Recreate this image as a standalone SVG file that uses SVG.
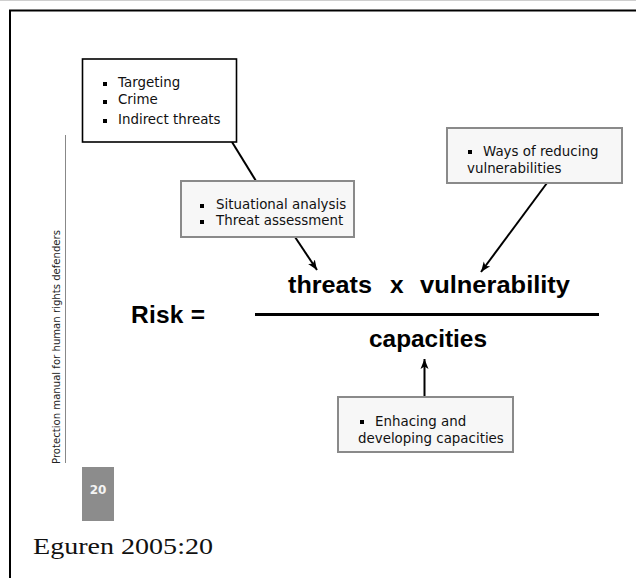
<svg xmlns="http://www.w3.org/2000/svg" width="636" height="578" viewBox="0 0 636 578">
  <defs>
    <marker id="arrow" viewBox="0 0 10 10" refX="10" refY="5" markerWidth="10" markerHeight="10" markerUnits="userSpaceOnUse" orient="auto">
      <path d="M0,1 L10,5 L0,9 L2.5,5 Z" fill="#000"/>
    </marker>
    <style>
      .box-black { fill: #fff; stroke: #000; stroke-width: 1.6; }
      .box-gray { fill: #f7f7f7; stroke: #8a8a8a; stroke-width: 2; }
      .item { font-family: "DejaVu Sans", Verdana, sans-serif; font-size: 13.4px; fill: #111; }
      .bullet { fill: #000; }
      .formula { font-family: "Liberation Sans", Arial, sans-serif; font-weight: bold; font-size: 24.5px; fill: #000; }
      .conn { stroke: #000; stroke-width: 2; fill: none; }
    </style>
  </defs>

  <rect x="0" y="0" width="636" height="578" fill="#fff"/>

  <!-- slide frame -->
  <line x1="0" y1="0.5" x2="636" y2="0.5" stroke="#cfcfcf" stroke-width="1"/>
  <path d="M10,578 L10,10.5 L636,10.5" fill="none" stroke="#000" stroke-width="2"/>

  <!-- page margin: running title and page number -->
  <g id="running-title">
    <line x1="65.5" y1="135" x2="65.5" y2="463" stroke="#888" stroke-width="1"/>
    <text transform="translate(60,464) rotate(-90)" font-family="DejaVu Sans, Verdana, sans-serif" font-size="9.8" fill="#222" textLength="234" lengthAdjust="spacingAndGlyphs">Protection manual for human rights defenders</text>
  </g>
  <g id="page-number">
    <rect x="82" y="467" width="32" height="54" fill="#8c8c8c"/>
    <text x="98" y="494" text-anchor="middle" font-family="DejaVu Sans, Verdana, sans-serif" font-weight="bold" font-size="12" fill="#f4f4f4">20</text>
  </g>

  <!-- connectors -->
  <g id="connectors">
    <line class="conn" x1="232" y1="142" x2="256" y2="181"/>
    <line class="conn" x1="295" y1="237" x2="317" y2="270" marker-end="url(#arrow)"/>
    <line class="conn" x1="547" y1="183" x2="481" y2="272" marker-end="url(#arrow)"/>
    <line class="conn" x1="424.5" y1="397" x2="424.5" y2="359" marker-end="url(#arrow)"/>
  </g>

  <!-- threat sources -->
  <g id="threat-sources">
    <rect class="box-black" x="82.5" y="59" width="154" height="83"/>
    <rect class="bullet" x="103" y="82" width="4" height="4"/>
    <text class="item" x="118" y="87">Targeting</text>
    <rect class="bullet" x="103" y="100" width="4" height="4"/>
    <text class="item" x="118" y="104">Crime</text>
    <rect class="bullet" x="103" y="119" width="4" height="4"/>
    <text class="item" x="118" y="124">Indirect threats</text>
  </g>

  <!-- threat analysis -->
  <g id="threat-analysis">
    <rect class="box-gray" x="181" y="181" width="173" height="56"/>
    <rect class="bullet" x="200" y="204" width="4" height="4"/>
    <text class="item" x="216" y="209">Situational analysis</text>
    <rect class="bullet" x="200" y="220" width="4" height="4"/>
    <text class="item" x="216" y="225">Threat assessment</text>
  </g>

  <!-- reducing vulnerabilities -->
  <g id="reduce-vulnerabilities">
    <rect class="box-gray" x="447" y="128" width="175" height="55"/>
    <rect class="bullet" x="468" y="150" width="4" height="4"/>
    <text class="item" x="483" y="156">Ways of reducing</text>
    <text class="item" x="467" y="173">vulnerabilities</text>
  </g>

  <!-- building capacities -->
  <g id="build-capacities">
    <rect class="box-gray" x="338" y="397" width="175" height="55"/>
    <rect class="bullet" x="360" y="420" width="4" height="4"/>
    <text class="item" x="375" y="426">Enhacing and</text>
    <text class="item" x="358" y="443">developing capacities</text>
  </g>

  <!-- risk equation -->
  <g id="risk-equation">
    <text class="formula" x="131" y="323" font-size="23" textLength="74" lengthAdjust="spacing">Risk =</text>
    <text class="formula" x="288" y="293" textLength="84" lengthAdjust="spacingAndGlyphs">threats</text>
    <text class="formula" x="390" y="293">x</text>
    <text class="formula" x="420" y="293" textLength="150" lengthAdjust="spacingAndGlyphs">vulnerability</text>
    <line x1="255" y1="314.5" x2="599" y2="314.5" stroke="#000" stroke-width="3"/>
    <text class="formula" x="369" y="347" textLength="118" lengthAdjust="spacingAndGlyphs">capacities</text>
  </g>

  <!-- citation -->
  <text id="citation" x="33" y="554" font-family="Liberation Serif, Times New Roman, serif" font-size="23" fill="#111" textLength="180" lengthAdjust="spacingAndGlyphs">Eguren 2005:20</text>
</svg>
